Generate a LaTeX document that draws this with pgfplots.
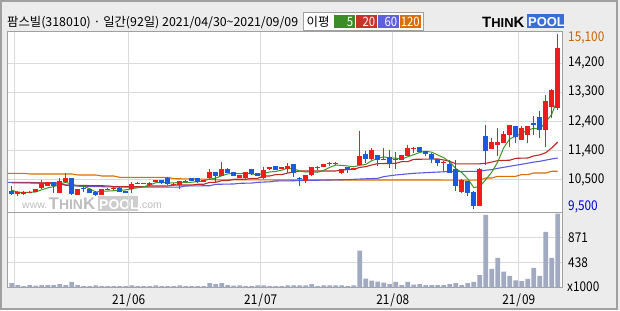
\documentclass[border=0pt]{standalone}
\usepackage{pgfplots}
\pgfplotsset{compat=1.18}
\usepackage{pgfplotstable}
\usepackage{fontspec}
\setmainfont{Noto Sans CJK KR}
\newfontfamily\lab[FakeStretch=0.88]{Noto Sans CJK KR}
\newfontfamily\lgs{Liberation Sans}

\definecolor{bgc}{RGB}{236,236,236}
\definecolor{frm}{RGB}{160,160,160}
\definecolor{grd}{RGB}{218,218,218}
\definecolor{upc}{RGB}{240,28,28}
\definecolor{dnc}{RGB}{26,90,220}
\definecolor{ma5}{RGB}{60,150,40}
\definecolor{ma20}{RGB}{190,40,40}
\definecolor{ma60}{RGB}{90,90,225}
\definecolor{ma120}{RGB}{220,110,0}
\definecolor{volc}{RGB}{162,170,194}
\definecolor{lgGreen}{RGB}{60,140,40}
\definecolor{lgRed}{RGB}{200,50,40}
\definecolor{lgBlue}{RGB}{95,95,225}
\definecolor{lgOrange}{RGB}{220,110,0}
\definecolor{poolblue}{RGB}{55,110,215}
\definecolor{orgtxt}{RGB}{200,100,0}
\definecolor{bluetxt}{RGB}{0,0,210}
\definecolor{wmk}{RGB}{190,190,190}
\definecolor{wmkbox}{RGB}{205,205,205}

\pgfplotstableread{
i o h l c
1 9970 10065 9906 10044
2 10020 10087 9950 10035
3 10030 10065 10010 10040
4 10044 10140 10030 10129
5 10161 10440 10150 10321
6 10236 10370 10230 10353
8 10023 10481 10000 10396
9 10353 10662 10340 10481
11 9948 10140 9940 10129
15 9948 10140 9940 10129
16 10120 10160 10100 10140
17 10129 10200 10120 10183
20 10129 10374 10023 10289
21 10315 10350 10290 10321
22 10315 10340 10300 10321
23 10268 10360 10240 10343
24 10375 10440 10360 10428
27 10289 10320 10250 10300
28 10268 10410 10130 10396
29 10390 10420 10370 10396
32 10375 10440 10360 10428
33 10481 10779 10470 10673
35 10566 10992 10550 10779
38 10502 10600 10490 10588
39 10481 10690 10470 10673
42 10481 10832 10470 10747
43 10769 10850 10760 10832
45 10820 10850 10800 10832
46 10769 10982 10662 10875
49 10407 10600 10322 10588
50 10577 10850 10570 10833
51 10825 10886 10748 10833
52 10854 10950 10840 10939
53 10955 11014 10875 10960
54 10955 11014 10907 10960
55 10641 10790 10630 10779
57 10769 10820 10760 10800
58 10907 11994 10900 11195
60 11088 11440 11080 11387
62 11090 11440 11060 11099
64 11090 11312 10769 11099
65 11067 11240 11060 11227
66 11195 11546 11190 11440
67 11430 11493 11280 11440
72 10995 11030 10706 11004
75 10045 10450 10000 10439
78 9609 10800 9600 10780
80 11430 11771 11420 11632
81 11558 12090 11185 11643
82 11611 11984 11600 11898
83 11877 12190 11472 12175
85 11717 12143 11700 12090
86 11877 12150 11611 12143
89 12037 13155 11472 12963
90 12750 13347 12410 13304
91 12729 15100 12676 14646
}\uptab

\pgfplotstableread{
i o h l c
0 10087 10250 9950 9970
7 10353 10360 10023 10236
10 10481 10490 9950 9980
12 10183 10236 10055 10129
13 10129 10140 10010 10023
14 10055 10060 9930 9948
18 10183 10190 10040 10055
19 10060 10070 10030 10055
25 10428 10440 10310 10321
26 10492 10510 10260 10289
30 10492 10500 10400 10406
31 10492 10500 10330 10375
34 10673 10690 10375 10556
36 10779 10800 10650 10662
37 10673 10690 10540 10556
40 10779 10790 10600 10619
41 10650 10660 10540 10556
44 10875 10890 10740 10747
47 10939 10950 10513 10641
48 10490 10535 10236 10481
56 10833 10840 10662 10748
59 11248 11365 10960 11099
61 11227 11240 10875 11067
63 11152 11387 10801 10982
68 11472 11480 11320 11333
69 11345 11360 11200 11270
70 11270 11280 10972 11110
71 11100 11110 10865 10982
73 10940 11078 10640 10652
74 10780 11078 10088 10226
76 10386 10400 9900 10013
77 10045 10060 9500 9609
79 11824 12175 10919 11345
84 12143 12160 11611 11813
87 12250 12463 11877 12175
88 12431 12623 11771 12037
}\dntab

\pgfplotstableread{
i v
0 81
1 46
2 29
3 46
4 35
5 46
6 46
7 46
8 64
9 46
10 99
11 46
12 29
13 29
14 40
15 29
16 29
17 29
18 29
19 29
20 40
21 29
22 29
23 29
24 40
25 29
26 29
27 29
28 40
29 29
30 29
31 29
32 29
33 81
34 64
35 81
36 46
37 35
38 40
39 29
40 29
41 40
42 40
43 29
44 29
45 29
46 40
47 40
48 40
49 40
50 64
51 29
52 40
53 40
54 40
55 40
56 29
57 40
58 644
59 157
60 122
61 104
62 87
63 64
64 99
65 46
66 99
67 52
68 64
69 46
70 46
71 46
72 46
73 64
74 81
75 46
76 81
77 99
78 220
79 1264
80 325
81 516
82 278
83 203
84 128
85 116
86 151
87 342
88 203
89 968
90 516
91 1282
}\voltab

\pgfplotstableread{
i m
0 10100
1 10040
2 10030
3 10035
4 10044
5 10114
6 10176
7 10216
8 10287
9 10357
10 10289
11 10244
12 10223
13 10148
14 10042
15 10072
16 10074
17 10085
18 10091
19 10112
20 10144
21 10181
22 10208
23 10266
24 10340
25 10347
26 10340
27 10336
28 10347
29 10340
30 10357
31 10375
32 10400
33 10456
34 10488
35 10562
36 10620
37 10645
38 10628
39 10652
40 10620
41 10598
42 10637
43 10685
44 10700
45 10743
46 10807
47 10785
48 10715
49 10683
50 10684
51 10675
52 10735
53 10831
54 10905
55 10894
56 10877
57 10849
58 10896
59 10924
60 11046
61 11110
62 11169
63 11127
64 11127
65 11095
66 11169
67 11238
68 11308
69 11344
70 11318
71 11227
72 11142
73 11005
74 10795
75 10663
76 10469
77 10188
78 10213
79 10437
80 10676
81 11002
82 11460
83 11739
84 11832
85 11924
86 12024
87 12079
88 12052
89 12282
90 12524
91 13025
}\matab

\begin{document}
\begin{tikzpicture}[x=1bp,y=1bp]
\fill[bgc] (0,0) rectangle (620,310);
\path[use as bounding box] (0,0) rectangle (620,310);
\draw[frm, line width=1.5bp] (1,1) rectangle (617,309);
\fill[white] (7.5,22.3) rectangle (562.5,279);
% watermark
\node[anchor=base west, inner sep=0pt, text=wmk, font=\lgs\fontsize{10.5}{12}\selectfont] at (22,102) {www.};
\node[anchor=base west, inner sep=0pt, text=wmk, font=\lgs\bfseries] at (48.5,101) {\fontsize{17}{17}\selectfont T\fontsize{14}{14}\selectfont HIN\fontsize{17}{17}\selectfont K};
\fill[wmkbox] (98,99.5) rectangle (138,114);
\node[anchor=base west, inner sep=0pt, text=white, font=\lgs\bfseries\fontsize{14}{14}\selectfont] at (99,101) {POOL};
\node[anchor=base west, inner sep=0pt, text=wmk, font=\lgs\fontsize{10.5}{12}\selectfont] at (139,102) {.com};

\begin{axis}[
  at={(7.5bp,97.3bp)}, anchor=south west,
  scale only axis, width=555bp, height=181.7bp,
  xmin=-0.7, xmax=91.8, ymin=9382, ymax=15190,
  axis line style={draw=frm, line width=1bp},
  xtick={0.5,19.5,41.5,63.5,84.5}, xticklabels={},
  ytick={10433.33,11366.67,12300,13233.33,14166.67},
  yticklabels={{10,500},{11,400},{12,400},{13,300},{14,200}},
  yticklabel pos=right,
  yticklabel style={anchor=west, inner sep=0pt, xshift=5.5bp, font=\lab\fontsize{13.5}{14}\selectfont},
  scaled ticks=false,
  grid=major, major grid style={draw=grd, line width=1bp},
  major tick length=0pt, every tick/.style={draw=none},
]
\addplot[ma120, line width=1.1bp, mark=none] coordinates {(-1,10640) (2,10640) (3,10620) (10,10620) (11,10588) (14,10588) (15,10556) (17,10556) (18,10513) (26,10513) (27,10470) (33,10450) (34,10430) (78,10425) (79,10490) (80,10490) (81,10545) (84,10545) (85,10600) (86,10600) (87,10650) (89,10650) (90,10706) (91,10706)};
\addplot[ma60, line width=1.1bp, mark=none] coordinates {(-1,10353) (4,10345) (8,10290) (11,10230) (18,10200) (28,10200) (29,10236) (33,10245) (34,10289) (37,10300) (38,10321) (40,10330) (41,10353) (43,10370) (44,10396) (46,10400) (56,10440) (57,10449) (61,10481) (62,10535) (64,10588) (67,10641) (69,10662) (73,10700) (78,10706) (79,10740) (80,10760) (81,10800) (83,10866) (85,10930) (87,11000) (88,11025) (90,11100) (91,11131)};
\addplot[ma20, line width=1.1bp, mark=none] coordinates {(0,10335) (8,10330) (9,10260) (16,10240) (17,10215) (22,10215) (23,10236) (26,10236) (27,10268) (30,10268) (31,10290) (32,10290) (33,10353) (34,10353) (35,10406) (36,10406) (37,10450) (39,10450) (40,10481) (41,10481) (42,10556) (43,10556) (44,10600) (45,10600) (46,10650) (47,10680) (48,10716) (54,10716) (55,10750) (57,10769) (58,10830) (59,10854) (60,10907) (61,10950) (64,10960) (65,11014) (66,11014) (67,11088) (71,11100) (72,11067) (73,11025) (74,10945) (78,10945) (79,10960) (80,11000) (81,11046) (83,11060) (84,11120) (86,11130) (87,11195) (88,11230) (89,11300) (90,11450) (91,11640)};
\addplot[ma5, line width=1bp, mark=none] table[x=i, y=m] {\matab};
% wicks
\addplot[draw=none, mark=none, forget plot, error bars/.cd, y dir=both, y explicit, error mark=none,
  error bar style={draw=upc, line width=1bp}]
  table[x=i, y expr={(\thisrow{h}+\thisrow{l})/2}, y error expr={(\thisrow{h}-\thisrow{l})/2}] {\uptab};
\addplot[draw=none, mark=none, forget plot, error bars/.cd, y dir=both, y explicit, error mark=none,
  error bar style={draw=dnc, line width=1bp}]
  table[x=i, y expr={(\thisrow{h}+\thisrow{l})/2}, y error expr={(\thisrow{h}-\thisrow{l})/2}] {\dntab};
% bodies
\addplot[draw=none, mark=none, forget plot, error bars/.cd, y dir=both, y explicit, error mark=none,
  error bar style={draw=upc, line width=4.8bp}]
  table[x=i, y expr={(\thisrow{o}+\thisrow{c})/2}, y error expr={max(abs(\thisrow{c}-\thisrow{o})/2,16)}] {\uptab};
\addplot[draw=none, mark=none, forget plot, error bars/.cd, y dir=both, y explicit, error mark=none,
  error bar style={draw=dnc, line width=4.8bp}]
  table[x=i, y expr={(\thisrow{o}+\thisrow{c})/2}, y error expr={max(abs(\thisrow{c}-\thisrow{o})/2,16)}] {\dntab};
\end{axis}

\begin{axis}[
  at={(7.5bp,22.3bp)}, anchor=south west,
  scale only axis, width=555bp, height=75bp,
  xmin=-0.7, xmax=91.8, ymin=0, ymax=1300,
  axis line style={draw=frm, line width=1bp},
  xtick={0.5,19.5,41.5,63.5,84.5},
  xticklabels={{},{21\kern1bp/\kern1bp06},{21\kern1bp/\kern1bp07},{21\kern1bp/\kern1bp08},{21\kern1bp/\kern1bp09}},
  xticklabel style={anchor=center, inner sep=0pt, yshift=-12.3bp, font=\lab\fontsize{13.5}{14}\selectfont},
  ytick={438,871}, yticklabels={438,871},
  yticklabel pos=right,
  yticklabel style={anchor=west, inner sep=0pt, xshift=5.5bp, font=\lab\fontsize{13.5}{14}\selectfont},
  scaled ticks=false,
  grid=major, major grid style={draw=grd, line width=1bp},
  major tick length=0pt, every tick/.style={draw=none},
]
\addplot[ybar, bar width=0.78, bar shift=0pt, fill=volc, draw=none] table[x=i, y=v] {\voltab};
\end{axis}

% right-side extreme labels
\node[anchor=west, inner sep=0pt, text=orgtxt, font=\lab\fontsize{13.5}{14}\selectfont] at (568,271.7) {15,100};
\node[anchor=west, inner sep=0pt, text=bluetxt, font=\lab\fontsize{13.5}{14}\selectfont] at (568,103.3) {9,500};
\node[anchor=west, inner sep=0pt, font=\lab\fontsize{13.5}{14}\selectfont] at (567,23.3) {x1000};

% title
\node[anchor=west, inner sep=0pt, font=\fontsize{12.4}{15}\selectfont] at (7,287) {팜스빌(318010) · 일간(92일) 2021/04/30\textasciitilde 2021/09/09};

% legend box
\draw[frm, fill=white, line width=1bp] (303,280) rectangle (423,297.3);
\node[inner sep=0pt, font=\fontsize{12.5}{13}\selectfont] at (318,288.5) {이평};
\fill[lgGreen] (334,281.7) rectangle (355,295);
\fill[lgRed] (356,281.7) rectangle (377,295);
\fill[lgBlue] (378,281.7) rectangle (399,295);
\fill[lgOrange] (400,281.7) rectangle (421,295);
\node[anchor=east, inner sep=0pt, text=white, font=\lab\fontsize{13}{13}\selectfont] at (353.5,288.3) {5};
\node[anchor=east, inner sep=0pt, text=white, font=\lab\fontsize{13}{13}\selectfont] at (375.5,288.3) {20};
\node[anchor=east, inner sep=0pt, text=white, font=\lab\fontsize{13}{13}\selectfont] at (397.5,288.3) {60};
\node[anchor=east, inner sep=0pt, text=white, font=\lab\fontsize{13}{13}\selectfont] at (420,288.3) {120};

% logo
\node[anchor=base west, inner sep=0pt, font=\lgs\bfseries] at (482,282.5) {\fontsize{15}{15}\selectfont T\fontsize{13}{13}\selectfont HIN\fontsize{15}{15}\selectfont K};
\fill[poolblue] (527,282) rectangle (564,295.5);
\node[anchor=base west, inner sep=0pt, text=white, font=\lgs\bfseries\fontsize{13}{13}\selectfont] at (528,283.3) {POOL};
\end{tikzpicture}
\end{document}
